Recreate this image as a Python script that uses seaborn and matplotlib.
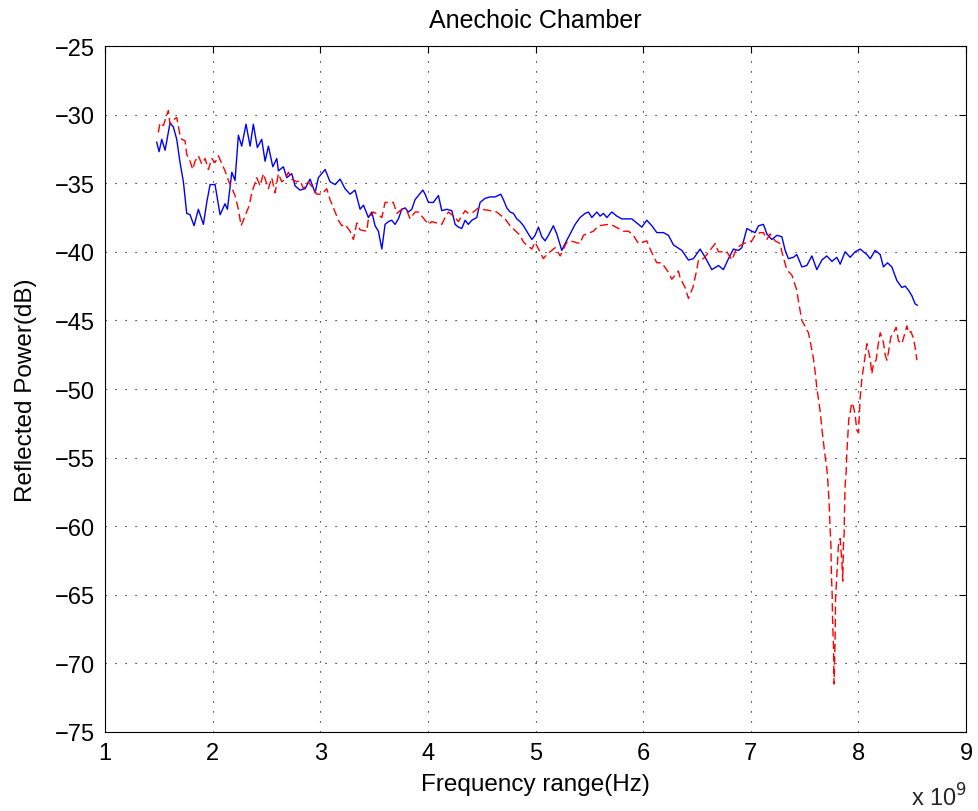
import numpy as np
import pandas as pd
import matplotlib
matplotlib.use("Agg")
import matplotlib.pyplot as plt
import seaborn as sns

# frequency in GHz (axis shows x 10^9 Hz), reflected power in dB
blue_freq = [1.480, 1.502, 1.527, 1.558, 1.604, 1.635, 1.666, 1.697, 1.728, 1.759,
             1.790, 1.827, 1.867, 1.914, 1.945, 1.976, 2.022, 2.069, 2.115, 2.137,
             2.178, 2.208, 2.239, 2.270, 2.310, 2.348, 2.378, 2.415, 2.456, 2.487,
             2.518, 2.559, 2.596, 2.611, 2.657, 2.689, 2.735, 2.766, 2.812, 2.859,
             2.905, 2.952, 2.982, 3.045, 3.091, 3.138, 3.184, 3.230, 3.277, 3.323,
             3.370, 3.401, 3.447, 3.479, 3.509, 3.540, 3.572, 3.602, 3.633, 3.664,
             3.695, 3.726, 3.757, 3.788, 3.819, 3.850, 3.881, 3.912, 3.953, 3.974,
             4.005, 4.051, 4.098, 4.129, 4.176, 4.222, 4.253, 4.283, 4.315, 4.346,
             4.376, 4.408, 4.454, 4.485, 4.532, 4.578, 4.625, 4.677, 4.702, 4.733,
             4.764, 4.795, 4.826, 4.857, 4.888, 4.934, 4.966, 4.996, 5.027, 5.058,
             5.089, 5.120, 5.166, 5.198, 5.244, 5.275, 5.321, 5.368, 5.414, 5.461,
             5.492, 5.523, 5.570, 5.600, 5.631, 5.663, 5.709, 5.756, 5.802, 5.849,
             5.895, 5.941, 5.988, 6.034, 6.081, 6.127, 6.189, 6.235, 6.282, 6.360,
             6.421, 6.467, 6.530, 6.576, 6.638, 6.700, 6.746, 6.793, 6.839, 6.886,
             6.917, 6.964, 7.010, 7.041, 7.072, 7.118, 7.150, 7.196, 7.243, 7.289,
             7.320, 7.350, 7.397, 7.428, 7.475, 7.521, 7.568, 7.614, 7.661, 7.707,
             7.754, 7.800, 7.831, 7.877, 7.924, 7.970, 8.017, 8.079, 8.110, 8.156,
             8.203, 8.233, 8.271, 8.311, 8.358, 8.404, 8.435, 8.466, 8.497, 8.528,
             8.549]
blue_db = [-32.0, -32.7, -31.8, -32.6, -30.6, -30.9, -31.8, -33.5, -34.9, -37.2,
           -37.3, -38.1, -36.9, -38.0, -36.4, -35.1, -35.1, -37.3, -36.5, -36.9,
           -34.2, -34.8, -31.5, -32.3, -30.7, -32.3, -30.7, -32.4, -31.8, -33.4,
           -32.3, -33.8, -33.2, -34.1, -33.8, -34.6, -34.3, -35.2, -35.5, -35.4,
           -34.7, -35.7, -34.6, -34.0, -34.9, -35.1, -34.7, -35.4, -35.8, -35.5,
           -36.9, -36.6, -37.5, -37.1, -38.1, -38.5, -39.8, -38.0, -37.8, -37.7,
           -38.0, -37.6, -36.9, -36.8, -37.1, -36.9, -36.2, -35.9, -35.5, -35.8,
           -36.4, -36.4, -35.9, -37.0, -36.9, -37.0, -38.0, -38.2, -38.3, -37.7,
           -38.0, -37.7, -37.5, -36.4, -36.1, -36.0, -36.0, -35.8, -36.2, -36.8,
           -37.1, -37.2, -37.6, -37.8, -38.1, -38.7, -39.1, -38.8, -38.2, -38.9,
           -39.2, -38.8, -38.1, -38.7, -39.9, -39.4, -38.7, -38.0, -37.5, -37.2,
           -37.1, -37.5, -37.1, -37.4, -37.2, -37.5, -37.1, -37.4, -37.6, -37.6,
           -37.6, -37.9, -38.2, -37.7, -38.1, -38.6, -38.6, -38.8, -39.5, -39.9,
           -40.6, -40.5, -39.8, -40.4, -41.3, -41.0, -41.3, -40.5, -39.8, -39.9,
           -39.7, -38.3, -38.5, -38.6, -38.1, -38.0, -38.7, -39.1, -38.8, -38.9,
           -39.9, -40.5, -40.4, -40.2, -41.1, -41.0, -40.3, -41.3, -40.6, -40.3,
           -40.7, -40.4, -40.9, -40.0, -40.4, -40.0, -39.8, -40.2, -40.5, -39.9,
           -40.2, -41.1, -40.8, -41.1, -42.1, -42.6, -42.5, -42.8, -43.2, -43.8,
           -43.9]

red_freq = [1.495, 1.511, 1.542, 1.588, 1.604, 1.635, 1.666, 1.697, 1.713, 1.743,
            1.759, 1.790, 1.815, 1.836, 1.867, 1.899, 1.929, 1.960, 1.992, 2.022,
            2.053, 2.115, 2.146, 2.208, 2.239, 2.264, 2.301, 2.341, 2.363, 2.410,
            2.441, 2.471, 2.518, 2.549, 2.580, 2.611, 2.642, 2.673, 2.704, 2.735,
            2.782, 2.812, 2.843, 2.889, 2.936, 2.967, 3.014, 3.060, 3.091, 3.138,
            3.168, 3.200, 3.230, 3.277, 3.308, 3.339, 3.370, 3.432, 3.447, 3.494,
            3.540, 3.572, 3.602, 3.679, 3.711, 3.757, 3.804, 3.835, 3.881, 3.912,
            3.943, 4.005, 4.036, 4.129, 4.160, 4.191, 4.253, 4.283, 4.346, 4.376,
            4.423, 4.469, 4.501, 4.578, 4.640, 4.717, 4.764, 4.857, 4.888, 4.966,
            4.996, 5.073, 5.105, 5.182, 5.229, 5.291, 5.321, 5.414, 5.445, 5.538,
            5.585, 5.678, 5.724, 5.817, 5.864, 5.910, 5.956, 6.034, 6.065, 6.127,
            6.174, 6.235, 6.267, 6.328, 6.344, 6.390, 6.421, 6.462, 6.499, 6.514,
            6.561, 6.592, 6.669, 6.700, 6.778, 6.824, 6.871, 6.932, 7.010, 7.041,
            7.087, 7.118, 7.150, 7.180, 7.227, 7.273, 7.289, 7.335, 7.382, 7.428,
            7.443, 7.475, 7.509, 7.536, 7.552, 7.583, 7.599, 7.614, 7.629, 7.645,
            7.661, 7.682, 7.691, 7.707, 7.717, 7.726, 7.732, 7.738, 7.745, 7.747,
            7.750, 7.757, 7.759, 7.763, 7.769, 7.771, 7.774, 7.784, 7.788, 7.800,
            7.815, 7.831, 7.847, 7.855, 7.861, 7.868, 7.871, 7.877, 7.887, 7.892,
            7.902, 7.911, 7.924, 7.939, 7.955, 7.970, 7.986, 8.001, 8.010, 8.017,
            8.032, 8.048, 8.063, 8.079, 8.110, 8.125, 8.141, 8.165, 8.187, 8.203,
            8.233, 8.249, 8.265, 8.280, 8.302, 8.326, 8.351, 8.373, 8.404, 8.419,
            8.451, 8.466, 8.488, 8.512, 8.528, 8.544]
red_db = [-31.3, -30.6, -30.8, -29.7, -30.7, -30.4, -30.2, -31.5, -31.8, -31.9,
          -32.9, -33.4, -34.0, -33.4, -33.0, -33.6, -33.2, -34.0, -33.2, -33.5,
          -33.0, -34.1, -34.8, -35.9, -36.9, -38.1, -37.4, -36.6, -35.7, -34.6,
          -35.2, -34.3, -35.4, -34.6, -35.7, -34.3, -34.9, -34.7, -34.2, -34.7,
          -34.9, -34.8, -35.4, -34.9, -35.4, -35.8, -35.8, -35.4, -36.2, -37.1,
          -37.7, -38.1, -38.0, -38.5, -39.1, -37.9, -38.4, -38.5, -37.6, -37.1,
          -37.3, -37.5, -36.4, -36.4, -37.2, -36.9, -37.0, -37.6, -37.1, -37.1,
          -37.4, -38.0, -37.8, -38.0, -37.5, -37.1, -37.5, -37.8, -37.0, -37.2,
          -37.1, -36.8, -36.9, -37.0, -37.1, -37.6, -38.1, -38.8, -39.3, -39.8,
          -39.3, -40.5, -40.2, -39.7, -40.3, -39.3, -39.2, -39.4, -38.8, -38.5,
          -38.1, -38.0, -38.1, -38.5, -38.5, -38.8, -39.4, -39.2, -39.8, -40.8,
          -40.8, -41.5, -42.0, -41.4, -41.9, -42.6, -43.4, -42.6, -41.3, -40.6,
          -40.5, -40.2, -39.4, -40.0, -40.0, -40.6, -39.7, -39.4, -39.2, -38.8,
          -38.6, -38.6, -39.1, -38.7, -39.2, -39.4, -40.0, -41.3, -41.7, -42.8,
          -43.6, -45.0, -45.5, -45.9, -46.5, -47.8, -48.8, -49.9, -50.7, -51.6,
          -52.9, -54.3, -54.9, -55.8, -56.8, -58.0, -59.0, -60.3, -61.4, -62.6,
          -63.6, -65.1, -66.3, -67.5, -68.7, -69.8, -71.5, -68.2, -65.3, -63.6,
          -61.4, -60.9, -62.6, -64.0, -61.4, -60.5, -59.0, -57.0, -56.0, -54.8,
          -53.4, -52.2, -51.7, -51.0, -51.3, -51.9, -53.0, -53.2, -51.7, -50.6,
          -49.3, -48.4, -47.5, -46.7, -47.8, -48.9, -48.1, -47.9, -46.6, -45.9,
          -46.6, -47.5, -47.9, -47.3, -46.2, -45.9, -45.5, -46.5, -46.7, -46.3,
          -45.4, -45.9, -45.8, -46.3, -47.0, -47.9]

blue_df = pd.DataFrame({"freq": blue_freq, "power": blue_db})
red_df = pd.DataFrame({"freq": red_freq, "power": red_db})

sns.set_theme(style="white")
plt.rcParams["font.family"] = ["Liberation Sans", "DejaVu Sans"]

fig = plt.figure(figsize=(9.79, 8.12), dpi=100)
ax = fig.add_axes([0.1073, 0.0973, 0.8794, 0.8448])

sns.lineplot(data=blue_df, x="freq", y="power", ax=ax, color="blue", lw=1.0,
             estimator=None, sort=False)
sns.lineplot(data=red_df, x="freq", y="power", ax=ax, color="red", lw=1.0,
             linestyle=(0, (6, 3)), estimator=None, sort=False)

ax.set_xlim(1, 9)
ax.set_ylim(-75, -25)
ax.set_xticks(np.arange(1, 10, 1))
ax.set_yticks(np.arange(-75, -24, 5))
ax.grid(True, color="black", linestyle=(0, (1, 8)), lw=0.8)
ax.tick_params(direction="in", top=True, right=True, length=5, width=0.8,
               labelsize=17, color="black", labelcolor="black", pad=7)
for s in ax.spines.values():
    s.set_color("black")
    s.set_linewidth(0.8)

ax.set_title("Anechoic Chamber", fontsize=18, color="black", pad=14)
ax.set_xlabel("Frequency range(Hz)", fontsize=17.5, color="black", labelpad=7)
ax.set_ylabel("Reflected Power(dB)", fontsize=17.5, color="black", labelpad=13)
fig.text(0.988, 0.0, r"x 10$^{9}$", fontsize=17, ha="right", va="bottom")

fig.savefig("out.png", dpi=100, facecolor="white")
